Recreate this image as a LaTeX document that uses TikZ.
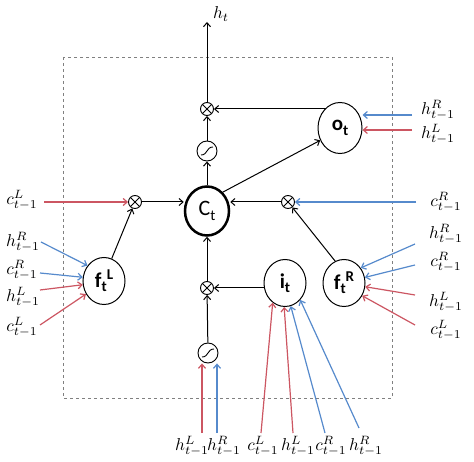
\documentclass[tikz,border=0pt]{standalone}
\usepackage{fontspec}
\setsansfont{Carlito}
\usetikzlibrary{arrows.meta,shapes.geometric}
\definecolor{rl}{RGB}{204,86,98}
\definecolor{bl}{RGB}{86,138,204}
\newcommand\gatetxt[2]{{\sffamily\bfseries\fontsize{21}{21}\selectfont #1\raisebox{-0.45ex}{\fontsize{15}{15}\selectfont t}#2}}
\newcommand\supL[1]{\raisebox{0.75ex}{\fontsize{15}{15}\selectfont #1}}
\begin{document}
\begin{tikzpicture}[x=1pt,y=-1pt,
  lbl/.style={inner sep=0pt, scale=1.72},
  gate/.style={draw, ellipse, inner sep=0pt, minimum width=42pt, minimum height=47pt, line width=1pt},
  cell/.style={draw, ellipse, inner sep=0pt, minimum width=44pt, minimum height=49pt, line width=2.5pt},
  mult/.style={draw, circle, inner sep=0pt, minimum size=13pt, line width=0.9pt,
    path picture={\draw[line width=0.9pt] (path picture bounding box.north east) -- (path picture bounding box.south west)
      (path picture bounding box.north west) -- (path picture bounding box.south east);}},
  act/.style={draw, circle, inner sep=0pt, minimum size=20pt, line width=0.9pt,
    path picture={\draw[line width=0.9pt] ([shift={(-6pt,-4pt)}]path picture bounding box.center)
      .. controls ([shift={(1pt,-4pt)}]path picture bounding box.center) and ([shift={(-1pt,4pt)}]path picture bounding box.center)
      .. ([shift={(6pt,4pt)}]path picture bounding box.center);}},
  arr/.style={-{Straight Barb[length=4pt,width=7pt]}, line width=1pt},
  rarr/.style={arr, draw=rl, line width=1.2pt},
  barr/.style={arr, draw=bl, line width=1.2pt}
]
\useasboundingbox (0,0) rectangle (474,462);
\draw[gray, dashed, line width=0.7pt] (63,57) rectangle (392,398);

% core nodes
\node[cell] (Ct) at (207,211) {{\sffamily\fontsize{22}{22}\selectfont C\raisebox{-0.45ex}{\fontsize{15}{15}\selectfont t}}};
\node[gate, minimum width=44pt, minimum height=51pt] (oT) at (340,128) {\gatetxt{o}{}};
\node[gate] (fL) at (104,281) {\gatetxt{f}{\supL{L}}};
\node[gate] (iT) at (285,283) {\gatetxt{i}{}};
\node[gate] (fR) at (344,283) {\gatetxt{f}{\supL{R}}};
\node[mult] (mT) at (207,109) {};
\node[mult] (mL) at (135,202) {};
\node[mult] (mR) at (288,202) {};
\node[mult] (mB) at (207,288) {};
\node[act] (aT) at (207,151) {};
\node[act] (aB) at (208,353) {};
\coordinate (hT) at (207,22);
\node[lbl] (lhT) at (221,14) {$h_t$};

% internal connectors
\draw[arr] (Ct) -- (aT);
\draw[arr] (aT) -- (mT);
\draw[arr] (mT) -- (hT);
\draw[arr] (mT -| oT.125) -- (mT);
\draw[arr] (Ct.50) -- (oT.212);
\draw[arr] (mL) -- (mL -| Ct.west);
\draw[arr] (mR) -- (mR -| Ct.east);
\draw[arr] (fL.71) -- (mL);
\draw[arr] (fR.112) -- (mR);
\draw[arr] (mB -| iT.west) -- (mB);
\draw[arr] (aB) -- (mB);
\draw[arr] (mB) -- (Ct);

% c^L / c^R into multipliers
\node[lbl] (l1) at (22,200) {$c^L_{t{-}1}$};
\coordinate (s1) at (44,202);
\draw[rarr] (s1) -- (mL);
\node[lbl] (l2) at (446,202) {$c^R_{t{-}1}$};
\coordinate (s2) at (416,202);
\draw[barr] (s2) -- (mR);

% o_t inputs
\node[lbl] (l3) at (438,110) {$h^R_{t{-}1}$};
\node[lbl] (l4) at (438,134) {$h^L_{t{-}1}$};
\coordinate (s3) at (412,115);
\coordinate (s4) at (412,130);
\draw[barr] (s3) -- (oT.east |- s3);
\draw[rarr] (s4) -- (oT.east |- s4);

% f_t^L inputs
\node[lbl] (l5) at (23,242) {$h^R_{t{-}1}$};
\node[lbl] (l6) at (22,270) {$c^R_{t{-}1}$};
\node[lbl] (l7) at (23,297) {$h^L_{t{-}1}$};
\node[lbl] (l8) at (22,327) {$c^L_{t{-}1}$};
\coordinate (s5) at (41,242);
\coordinate (s6) at (40,273);
\coordinate (s7) at (40,290);
\coordinate (s8) at (40,325);
\draw[barr] (s5) -- (fL.137);
\draw[barr] (s6) -- (fL.170);
\draw[rarr] (s7) -- (fL.190);
\draw[rarr] (s8) -- (fL.216);

% f_t^R inputs
\node[lbl] (l9) at (446,234) {$h^R_{t{-}1}$};
\node[lbl] (l10) at (446,262) {$c^R_{t{-}1}$};
\node[lbl] (l11) at (446,302) {$h^L_{t{-}1}$};
\node[lbl] (l12) at (446,330) {$c^L_{t{-}1}$};
\coordinate (s9) at (415,244);
\coordinate (s10) at (415,265);
\coordinate (s11) at (415,295);
\coordinate (s12) at (415,325);
\draw[barr] (s9) -- (fR.42);
\draw[barr] (s10) -- (fR.15);
\draw[rarr] (s11) -- (fR.350);
\draw[rarr] (s12) -- (fR.325);

% bottom inputs
\node[lbl] (b1) at (192,446) {$h^L_{t{-}1}$};
\node[lbl] (b2) at (224,446) {$h^R_{t{-}1}$};
\node[lbl] (b3) at (263,446) {$c^L_{t{-}1}$};
\node[lbl] (b4) at (298,446) {$h^L_{t{-}1}$};
\node[lbl] (b5) at (331,446) {$c^R_{t{-}1}$};
\node[lbl] (b6) at (366,446) {$h^R_{t{-}1}$};
\coordinate (t1) at (202,433);
\coordinate (t2) at (217,433);
\coordinate (t3) at (261,433);
\coordinate (t4) at (293,433);
\coordinate (t5) at (325,433);
\coordinate (t6) at (359,428);
\draw[rarr] (t1) -- (t1 |- aB.south);
\draw[barr] (t2) -- (t2 |- aB.south);
\draw[rarr] (t3) -- (iT.238);
\draw[rarr] (t4) -- (iT.268);
\draw[barr] (t5) -- (iT.284);
\draw[barr] (t6) -- (iT.312);
\end{tikzpicture}
\end{document}
